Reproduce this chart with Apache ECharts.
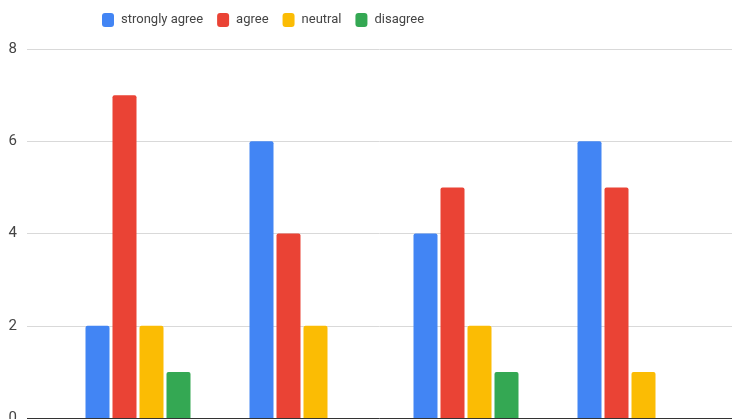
<!DOCTYPE html>
<html>
<head>
<meta charset="utf-8">
<script src="https://cdn.jsdelivr.net/npm/echarts@6/dist/echarts.min.js"></script>
<style>
  html, body { margin: 0; padding: 0; background: #fff; }
  #chart { width: 732px; height: 419px; }
</style>
</head>
<body>
<div id="chart"></div>
<script>
// Survey responses per statement
const categories = ['Q1', 'Q2', 'Q3', 'Q4'];
const seriesNames = ['strongly agree', 'agree', 'neutral', 'disagree'];
const stronglyAgree = [2, 6, 4, 6];
const agree = [7, 4, 5, 5];
const neutral = [2, 2, 2, 1];
const disagree = [1, 0, 1, 0];
const yTicks = [0, 2, 4, 6, 8];

const colors = ['#4285F4', '#EA4335', '#FBBC04', '#34A853'];
const values = [stronglyAgree, agree, neutral, disagree];
const textFont = 'Roboto, Arial, sans-serif';

const chart = echarts.init(document.getElementById('chart'), null, { renderer: 'canvas' });

const series = seriesNames.map((name, i) => ({
  name: name,
  type: 'bar',
  xAxisIndex: 1,
  yAxisIndex: 1,
  data: values[i],
  barWidth: 24,
  barGap: '12.5%',
  itemStyle: { color: colors[i], borderRadius: [2, 2, 0, 0] },
  emphasis: { disabled: true }
}));

chart.setOption({
  animation: false,
  color: colors,
  legend: {
    top: 13,
    left: 102,
    padding: 0,
    itemWidth: 12,
    itemHeight: 14,
    itemGap: 14,
    icon: 'roundRect',
    textStyle: { fontFamily: textFont, fontSize: 13, color: '#444', padding: [0, 0, 0, 2] },
    data: seriesNames
  },
  grid: [
    { left: 27, right: 0, top: 49, bottom: 1, outerBoundsMode: 'none' },
    { left: 56, right: 20, top: 49, bottom: 1, outerBoundsMode: 'none' }
  ],
  xAxis: [
    { type: 'value', gridIndex: 0, show: false, min: 0, max: 1 },
    {
      type: 'category', gridIndex: 1, data: categories,
      axisLine: { show: false }, axisTick: { show: false }, axisLabel: { show: false }
    }
  ],
  yAxis: [
    {
      type: 'value', gridIndex: 0, min: yTicks[0], max: yTicks[yTicks.length - 1], interval: 2,
      axisLine: { show: false }, axisTick: { show: false },
      axisLabel: { margin: 10, fontFamily: textFont, fontSize: 15, color: '#444' },
      splitLine: { lineStyle: { color: '#d9d9d9', width: 1 } }
    },
    {
      type: 'value', gridIndex: 1, min: yTicks[0], max: yTicks[yTicks.length - 1], interval: 2,
      show: false, splitLine: { show: false }
    }
  ],
  series: series.concat([{
    // baseline along zero
    type: 'line', xAxisIndex: 0, yAxisIndex: 0, data: [], silent: true,
    markLine: {
      symbol: 'none', silent: true, label: { show: false },
      lineStyle: { color: '#333', width: 1, type: 'solid' },
      data: [{ yAxis: 0 }]
    }
  }])
});
</script>
</body>
</html>
